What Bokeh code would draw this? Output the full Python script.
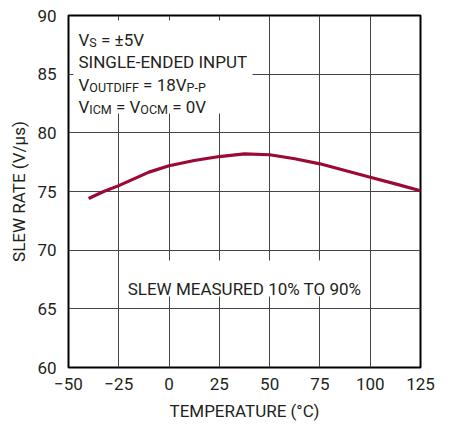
from bokeh.plotting import figure
from bokeh.models import FixedTicker, Label, BoxAnnotation, Range1d
from bokeh.embed import file_html
from bokeh.resources import INLINE

# ---- data ----
temperature = [-40, -32.5, -25, -10, 0, 12.5, 25, 37.5, 50, 62.5, 75, 87.5, 100, 112.5, 125]
slew_rate = [74.40, 75.0, 75.5, 76.65, 77.19, 77.64, 77.98, 78.2, 78.13, 77.79, 77.36, 76.79, 76.22, 75.65, 75.06]

x_ticks = [-50, -25, 0, 25, 50, 75, 100, 125]
x_tick_labels = ["\u221250", "\u221225", "0", "25", "50", "75", "100", "125"]
y_ticks = [60, 65, 70, 75, 80, 85, 90]
y_tick_labels = ["60", "65", "70", "75", "80", "85", "90"]

FONT = "Roboto"
TXT = "#231f20"
FW, FH = 352, 352
X0, X1, Y0, Y1 = -50, 125, 60, 90

p = figure(width=450, height=434, output_backend="svg", toolbar_location=None,
           x_range=Range1d(X0, X1), y_range=Range1d(Y0, Y1),
           min_border_left=68, min_border_right=30, min_border_top=15, min_border_bottom=67)
p.background_fill_color = "white"
p.border_fill_color = "white"
p.outline_line_color = "black"
p.outline_line_width = 2

p.xaxis.ticker = FixedTicker(ticks=x_ticks)
p.yaxis.ticker = FixedTicker(ticks=y_ticks)
p.xaxis.major_label_overrides = dict(zip(x_ticks, x_tick_labels))
p.yaxis.major_label_overrides = dict(zip(y_ticks, y_tick_labels))
for ax in (p.xaxis, p.yaxis):
    ax.major_tick_in = 0
    ax.major_tick_out = 0
    ax.minor_tick_line_color = None
    ax.axis_line_color = None
    ax.major_label_text_font = FONT
    ax.major_label_text_font_size = "17px"
    ax.major_label_text_color = TXT
    ax.axis_label_text_font = FONT
    ax.axis_label_text_font_size = "17px"
    ax.axis_label_text_font_style = "normal"
    ax.axis_label_text_color = TXT
p.xaxis.axis_label = "TEMPERATURE (\u00b0C)"
p.yaxis.axis_label = "SLEW RATE (V/\u03bcs)"
p.xaxis.major_label_standoff = 10
p.yaxis.major_label_standoff = 12
p.xaxis.axis_label_standoff = 8
p.yaxis.axis_label_standoff = 5

p.grid.grid_line_color = "#444444"
p.grid.grid_line_width = 1

def dx(px):
    return X0 + px * (X1 - X0) / FW

def dy(px):
    return Y1 - px * (Y1 - Y0) / FH

# white backgrounds behind the notes
p.add_layout(BoxAnnotation(left=dx(5), right=dx(184), top=dy(5), bottom=dy(98),
                           fill_color="white", fill_alpha=1, line_color=None, level="glyph"))
p.add_layout(BoxAnnotation(left=dx(51.5), right=dx(300.5), top=dy(245), bottom=dy(281),
                           fill_color="white", fill_alpha=1, line_color=None, level="glyph"))

p.line(temperature, slew_rate, line_color="#9a0a34", line_width=3.2)

# ---- notes with subscripts ----
EM = {'V': .636, 'S': .602, ' ': .248, '=': .549, '\u00b1': .536, '5': .562, 'O': .688,
      'U': .648, 'T': .597, 'D': .656, 'I': .272, 'F': .552, '1': .562, '8': .562,
      'P': .631, '-': .276, 'C': .652, 'M': .873, '0': .562}

def tw(s, size):
    return sum(EM.get(c, .6) for c in s) * size

BIG, SMALL = 17, 12.5
lines = [
    (24.3, [("V", 0), ("S", 1), (" = \u00b15V", 0)]),
    (46.7, [("SINGLE-ENDED INPUT", 0)]),
    (69.3, [("V", 0), ("OUTDIFF", 1), (" = 18V", 0), ("P-P", 1)]),
    (91.0, [("V", 0), ("ICM", 1), (" = V", 0), ("OCM", 1), (" = 0V", 0)]),
]
for base, segs in lines:
    xpx = 10.0
    for s, sub in segs:
        size = SMALL if sub else BIG
        lead = len(s) - len(s.lstrip(" "))
        xpx += tw(" " * lead, size)
        s = s.strip(" ")
        p.add_layout(Label(x=dx(xpx), y=dy(base + (3 if sub else 0)), text=s,
                           text_font=FONT, text_font_size=f"{size}px", text_color=TXT,
                           text_baseline="alphabetic", text_align="left"))
        xpx += tw(s, size)

p.add_layout(Label(x=dx(176), y=dy(273.3), text="SLEW MEASURED 10% TO 90%",
                   text_font=FONT, text_font_size="17px", text_color=TXT,
                   text_baseline="alphabetic", text_align="center"))

p.add_layout(Label(x=dx(352.5), y=dy(413), text="6363 G16",
                   text_font=FONT, text_font_size="10px", text_color=TXT,
                   text_baseline="alphabetic", text_align="right"))

open("out.html", "w").write(file_html(p, INLINE))
